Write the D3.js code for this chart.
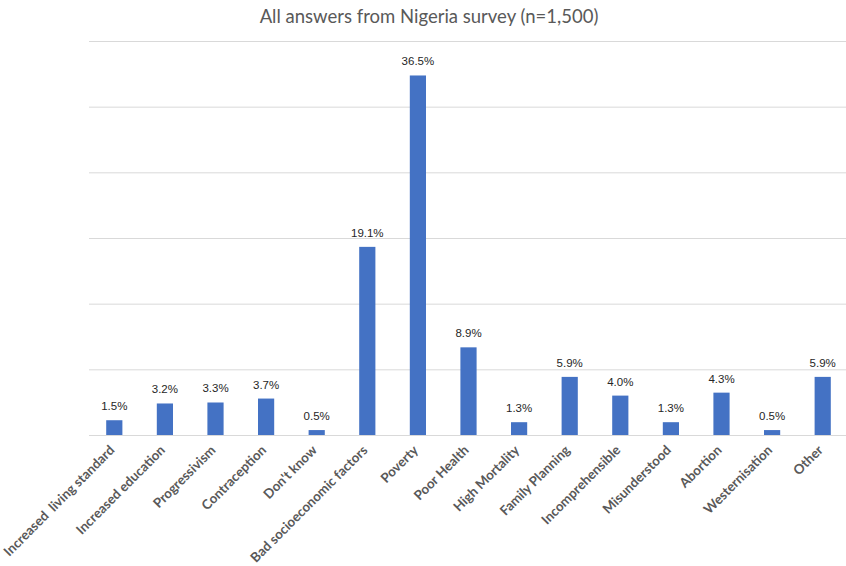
<!DOCTYPE html>
<html>
<head>
<meta charset="utf-8">
<script src="https://cdn.jsdelivr.net/npm/d3@7"></script>
<style>
  html, body { margin: 0; padding: 0; background: #fff; }
  svg { display: block; }
</style>
</head>
<body>
<svg id="chart" width="846" height="566"></svg>
<script>
// Answers and their share of respondents (%)
const categories = [
  "Increased  living standard", "Increased education", "Progressivism", "Contraception",
  "Don't know", "Bad socioeconomic factors", "Poverty", "Poor Health", "High Mortality",
  "Family Planning", "Incomprehensible", "Misunderstood", "Abortion", "Westernisation", "Other"
];
const shares = [1.5, 3.2, 3.3, 3.7, 0.5, 19.1, 36.5, 8.9, 1.3, 5.9, 4.0, 1.3, 4.3, 0.5, 5.9];
// Gridlines every 100 respondents out of n
const respondents = 1500;
const gridCounts = [0, 100, 200, 300, 400, 500, 600];
const title = "All answers from Nigeria survey (n=1,500)";

const width = 846, height = 566;
const margin = { top: 41, right: -2, bottom: 131, left: 89 };
const svg = d3.select("#chart");

const x = d3.scaleBand()
  .domain(categories)
  .range([margin.left, width - margin.right])
  .paddingInner(0.68)
  .paddingOuter(0.34);

const toPct = c => c / respondents * 100;
const y = d3.scaleLinear()
  .domain([0, toPct(d3.max(gridCounts))])
  .range([height - margin.bottom, margin.top]);

// Title
svg.append("text")
  .attr("x", 429).attr("y", 23)
  .attr("text-anchor", "middle")
  .attr("font-family", "Lato, 'Open Sans', sans-serif")
  .attr("font-size", 18.5)
  .attr("fill", "#595959")
  .text(title);

// Horizontal gridlines
const grid = d3.axisLeft(y)
  .tickValues(gridCounts.map(toPct))
  .tickSize(-(width - margin.right - margin.left))
  .tickFormat("");
svg.append("g")
  .attr("transform", `translate(${margin.left},0)`)
  .call(grid)
  .call(g => g.select(".domain").remove())
  .call(g => g.selectAll(".tick line").attr("stroke", "#d9d9d9").attr("stroke-width", 1));

// Bars
svg.append("g").selectAll("rect")
  .data(shares)
  .join("rect")
  .attr("x", (d, i) => x(categories[i]))
  .attr("width", x.bandwidth())
  .attr("y", d => y(d))
  .attr("height", d => y(0) - y(d))
  .attr("fill", "#4472C4");

// Value labels
svg.append("g").selectAll("text")
  .data(shares)
  .join("text")
  .attr("x", (d, i) => x(categories[i]) + x.bandwidth() / 2)
  .attr("y", d => y(d) - 10)
  .attr("text-anchor", "middle")
  .attr("font-family", "'Liberation Sans', Arial, sans-serif")
  .attr("font-size", 11.5)
  .attr("fill", "#262626")
  .text(d => d.toFixed(1) + "%");

// Category axis with rotated labels
const xAxis = d3.axisBottom(x).tickSize(0).tickPadding(0);
svg.append("g")
  .attr("transform", `translate(0,${y(0)})`)
  .call(xAxis)
  .call(g => g.select(".domain").attr("stroke", "#d9d9d9"))
  .call(g => g.selectAll(".tick text")
    .attr("font-family", "Lato, 'Open Sans', sans-serif")
    .attr("font-weight", "bold")
    .attr("font-size", 13.3)
    .attr("fill", "#595959")
    .style("white-space", "pre")
    .attr("text-anchor", "end")
    .attr("dy", 0)
    .attr("transform", "translate(1,16) rotate(-45)"));
</script>
</body>
</html>
